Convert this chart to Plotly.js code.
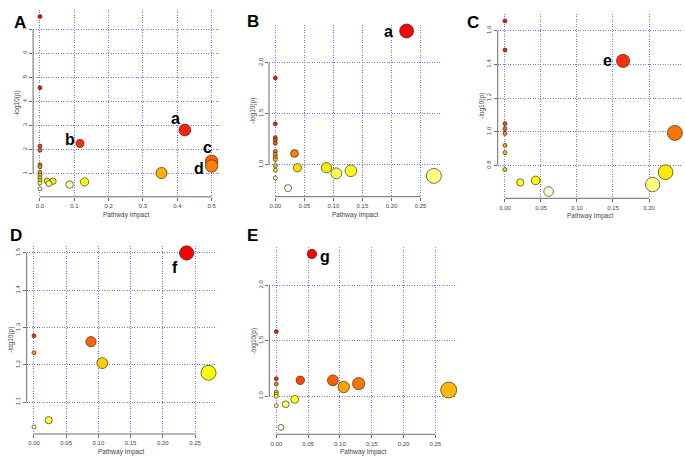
<!DOCTYPE html>
<html><head><meta charset="utf-8">
<script src="https://cdn.plot.ly/plotly-3.0.1.min.js"></script>
<style>html,body{margin:0;padding:0;background:#fff;}#chart{width:685px;height:464px;}</style>
</head><body><div id="chart"></div>
<script>
// ---------- Panel A ----------
const impactA = [0, 0, 0.422, 0.1165, 0, 0, 0.5, 0, 0.5, 0, 0, 0.354, 0, 0, 0, 0.0204, 0.038, 0.130, 0, 0.026, 0.0865, 0];
const logpA   = [7.53, 4.57, 2.81, 2.25, 2.14, 1.97, 1.51, 1.36, 1.31, 1.28, 1.05, 1.02, 0.93, 0.82, 0.71, 0.69, 0.68, 0.65, 0.60, 0.58, 0.54, 0.36];
const labelsA = ['', '', 'a', 'b', '', '', 'c', '', 'd', '', '', '', '', '', '', '', '', '', '', '', '', ''];
const xTicksA = [0, 0.1, 0.2, 0.3, 0.4, 0.5];
const xTickTextA = ['0.0', '0.1', '0.2', '0.3', '0.4', '0.5'];
const yTicksA = [1, 2, 3, 4, 5, 6, 7];
const yTickTextA = ['1', '2', '3', '4', '5', '6', '7'];

// ---------- Panel B ----------
const impactB = [0.226, 0, 0, 0, 0, 0, 0, 0.033, 0, 0, 0, 0, 0.038, 0.088, 0, 0.130, 0.105, 0.273, 0, 0.022];
const logpB   = [2.31, 1.85, 1.40, 1.265, 1.24, 1.21, 1.13, 1.11, 1.10, 1.07, 1.05, 0.99, 0.97, 0.97, 0.945, 0.94, 0.915, 0.89, 0.87, 0.77];
const labelsB = ['a', '', '', '', '', '', '', '', '', '', '', '', '', '', '', '', '', '', '', ''];
const xTicksB = [0, 0.05, 0.1, 0.15, 0.2, 0.25];
const xTickTextB = ['0.00', '0.05', '0.10', '0.15', '0.20', '0.25'];
const yTicksB = [1.0, 1.5, 2.0];
const yTickTextB = ['1.0', '1.5', '2.0'];

// ---------- Panel C ----------
const impactC = [0, 0, 0.164, 0, 0, 0.236, 0, 0, 0, 0, 0.223, 0.0426, 0.0213, 0.205, 0.0606];
const logpC   = [1.658, 1.485, 1.421, 1.048, 1.018, 0.993, 0.99, 0.919, 0.876, 0.776, 0.76, 0.711, 0.699, 0.687, 0.645];
const labelsC = ['', '', 'e', '', '', '', '', '', '', '', '', '', '', '', ''];
const xTicksC = [0, 0.05, 0.1, 0.15, 0.2];
const xTickTextC = ['0.00', '0.05', '0.10', '0.15', '0.20'];
const yTicksC = [0.8, 1.0, 1.2, 1.4, 1.6];
const yTickTextC = ['0.8', '1.0', '1.2', '1.4', '1.6'];

// ---------- Panel D ----------
const impactD = [0.237, 0, 0.0885, 0, 0.106, 0.271, 0.0228, 0];
const logpD   = [1.5, 1.278, 1.2625, 1.233, 1.205, 1.179, 1.052, 1.034];
const labelsD = ['f', '', '', '', '', '', '', ''];
const xTicksD = [0, 0.05, 0.1, 0.15, 0.2, 0.25];
const xTickTextD = ['0.00', '0.05', '0.10', '0.15', '0.20', '0.25'];
const yTicksD = [1.1, 1.2, 1.3, 1.4, 1.5];
const yTickTextD = ['1.1', '1.2', '1.3', '1.4', '1.5'];

// ---------- Panel E ----------
const impactE = [0.056, 0, 0, 0.0377, 0.089, 0.1295, 0, 0.106, 0.271, 0, 0, 0, 0.029, 0.0148, 0, 0.0074];
const logpE   = [2.282, 1.583, 1.159, 1.144, 1.144, 1.114, 1.111, 1.084, 1.057, 1.04, 1.02, 1.0, 0.973, 0.928, 0.916, 0.72];
const labelsE = ['g', '', '', '', '', '', '', '', '', '', '', '', '', '', '', ''];
const xTicksE = [0, 0.05, 0.1, 0.15, 0.2, 0.25];
const xTickTextE = ['0.00', '0.05', '0.10', '0.15', '0.20', '0.25'];
const yTicksE = [1.0, 1.5, 2.0];
const yTickTextE = ['1.0', '1.5', '2.0'];

const panelNames = ['A', 'B', 'C', 'D', 'E'];
const xTitle = 'Pathway Impact';
const yTitle = '-log10(p)';

// ---------- styling / layout ----------
const W = 685, H = 464;
const FONT = 'Liberation Sans, Arial, Helvetica, sans-serif';

function hsv(h, s, v) {
  const i = Math.floor(h * 6 + 1e-9), f = Math.max(0, h * 6 - i);
  const p = v * (1 - s), q = v * (1 - f * s), t = v * (1 - (1 - f) * s);
  let r, g, b;
  switch (((i % 6) + 6) % 6) {
    case 0: r = v; g = t; b = p; break;
    case 1: r = q; g = v; b = p; break;
    case 2: r = p; g = v; b = t; break;
    case 3: r = p; g = q; b = v; break;
    case 4: r = t; g = p; b = v; break;
    default: r = v; g = p; b = q;
  }
  return 'rgb(' + Math.round(r * 255) + ',' + Math.round(g * 255) + ',' + Math.round(b * 255) + ')';
}
// R heat.colors(n)
function heatColors(n) {
  const j = Math.floor(n / 4), i = n - j, cols = [];
  for (let k = 0; k < i; k++) cols.push(hsv(i > 1 ? (k / (i - 1)) / 6 : 0, 1, 1));
  const s0 = 1 - 1 / (2 * j), s1 = 1 / (2 * j);
  for (let k = 0; k < j; k++) cols.push(hsv(1 / 6, j > 1 ? s0 + (s1 - s0) * k / (j - 1) : s0, 1));
  return cols;
}

const panels = [
  {impact: impactA, logp: logpA, labels: labelsA, xt: xTicksA, xtt: xTickTextA, yt: yTicksA, ytt: yTickTextA,
   box: [33.1, 218.5, 9.6, 196.8], xr: [-0.02, 0.52], yr: [0.03, 7.82], dmax: 12.5,
   letter: [11.5, 10.5], off: {a: [-9, 11], b: [-10, 4], c: [-4, 14], d: [-13, -2]}},
  {impact: impactB, logp: logpB, labels: labelsB, xt: xTicksB, xtt: xTickTextB, yt: yTicksB, ytt: yTickTextB,
   box: [269, 440.3, 24.7, 196.7], xr: [-0.0109, 0.284], yr: [0.686, 2.372], dmax: 15,
   letter: [253, 10], off: {a: [-18, 0]}},
  {impact: impactC, logp: logpC, labels: labelsC, xt: xTicksC, xtt: xTickTextC, yt: yTicksC, ytt: yTickTextC,
   box: [497.7, 681.4, 13.8, 198.3], xr: [-0.0101, 0.245], yr: [0.605, 1.70], dmax: 15,
   letter: [481, 10.5], off: {e: [-16, 0]}},
  {impact: impactD, logp: logpD, labels: labelsD, xt: xTicksD, xtt: xTickTextD, yt: yTicksD, ytt: yTickTextD,
   box: [26.7, 215.5, 245.9, 434], xr: [-0.0113, 0.2818], yr: [1.015, 1.519], dmax: 15,
   letter: [8.3, 236], off: {f: [-12, -15]}},
  {impact: impactE, logp: logpE, labels: labelsE, xt: xTicksE, xtt: xTickTextE, yt: yTicksE, ytt: yTickTextE,
   box: [269.3, 455.7, 247, 434.3], xr: [-0.011, 0.282], yr: [0.658, 2.345], dmax: 16,
   letter: [252.5, 236], off: {g: [13, -3]}}
];

const traces = [], annotations = [], shapes = [];
const layout = {
  width: W, height: H, margin: {l: 0, r: 0, t: 0, b: 0},
  paper_bgcolor: '#fff', plot_bgcolor: 'rgba(0,0,0,0)', showlegend: false,
  font: {family: FONT, color: '#333'}
};

panels.forEach((p, k) => {
  const sfx = k === 0 ? '' : String(k + 1);
  const xa = 'x' + sfx, ya = 'y' + sfx;
  const [l, r, t, b] = p.box;
  const gridStyle = {showgrid: true, gridcolor: 'rgba(90,90,255,0.85)', gridwidth: 1, griddash: '1px,1.5px',
    zeroline: false, showline: false, ticks: 'outside', ticklen: 3, tickwidth: 0.8, tickcolor: '#444',
    tickfont: {family: FONT, size: 6, color: '#444'}, tickmode: 'array', fixedrange: true};
  layout['xaxis' + sfx] = Object.assign({}, gridStyle, {
    domain: [l / W, r / W], range: p.xr, tickvals: p.xt, ticktext: p.xtt, anchor: ya});
  layout['yaxis' + sfx] = Object.assign({}, gridStyle, {
    domain: [1 - b / H, 1 - t / H], range: p.yr, tickvals: p.yt, ticktext: p.ytt, anchor: xa, tickangle: -90});

  // R-style axis lines spanning the tick range
  shapes.push({type: 'line', xref: xa, yref: ya + ' domain', x0: p.xt[0], x1: p.xt[p.xt.length - 1], y0: 0, y1: 0,
    line: {color: '#444', width: 0.8}});
  shapes.push({type: 'line', xref: xa + ' domain', yref: ya, x0: 0, x1: 0, y0: p.yt[0], y1: p.yt[p.yt.length - 1],
    line: {color: '#444', width: 0.8}});

  // order by -log10(p) decreasing, heat colours by rank, circle size by sqrt(impact)
  const n = p.logp.length;
  const order = [...Array(n).keys()].sort((i, j) => p.logp[j] - p.logp[i]);
  const cols = heatColors(n);
  const maxImp = Math.max(...p.impact);
  traces.push({
    type: 'scatter', mode: 'markers', xaxis: xa, yaxis: ya, cliponaxis: false, hoverinfo: 'skip',
    x: order.map(i => p.impact[i]), y: order.map(i => p.logp[i]),
    marker: {color: cols, size: order.map(i => 4 + (p.dmax - 4) * Math.sqrt(p.impact[i] / maxImp)),
      line: {color: 'rgba(30,30,30,0.9)', width: 0.7}, opacity: 1}
  });

  // point labels
  p.labels.forEach((lab, i) => {
    if (!lab) return;
    const o = p.off[lab] || [0, 0];
    annotations.push({xref: xa, yref: ya, x: p.impact[i], y: p.logp[i], text: '<b>' + lab + '</b>',
      showarrow: false, xshift: o[0], yshift: o[1], font: {family: FONT, size: 16, color: '#000'}});
  });

  // axis titles
  annotations.push({xref: xa + ' domain', yref: ya + ' domain', x: 0.5, y: 0, yshift: -24, text: xTitle,
    showarrow: false, font: {family: FONT, size: 6.5, color: '#444'}});
  annotations.push({xref: xa + ' domain', yref: ya + ' domain', x: 0, y: 0.5, xshift: -22, text: yTitle,
    textangle: -90, showarrow: false, font: {family: FONT, size: 6.5, color: '#444'}});

  // panel letter
  annotations.push({xref: 'paper', yref: 'paper', x: p.letter[0] / W, y: 1 - p.letter[1] / H, text: '<b>' + panelNames[k] + '</b>',
    showarrow: false, font: {family: FONT, size: 17, color: '#000'}});
});

layout.annotations = annotations;
layout.shapes = shapes;
Plotly.newPlot('chart', traces, layout, {staticPlot: true, displayModeBar: false});
</script>
</body></html>
